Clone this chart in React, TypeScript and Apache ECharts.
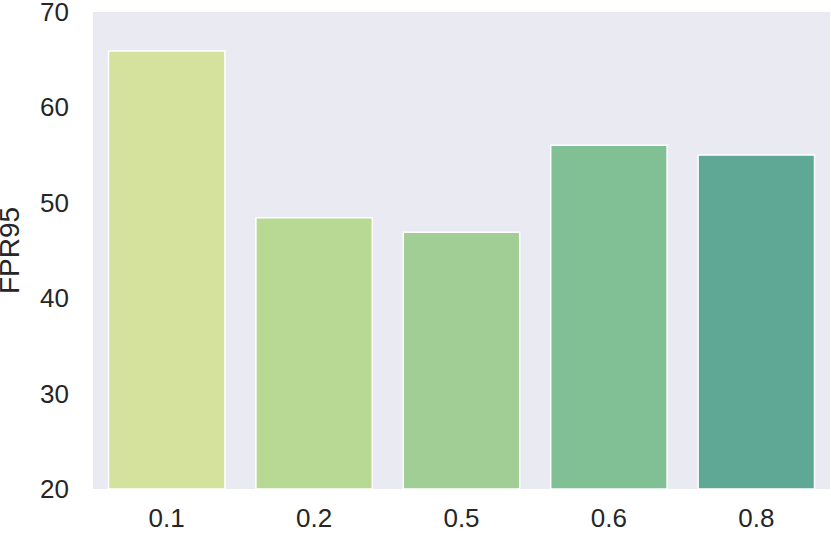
import React, { useEffect, useRef } from "react";
import * as echarts from "echarts";

const categories = ["0.1", "0.2", "0.5", "0.6", "0.8"];
const fpr95Values = [66.0, 48.5, 47.0, 56.1, 55.1];
const barColors = ["#D4E29D", "#B7D994", "#A1CE94", "#81BF95", "#5FA895"];
const yTicks = { min: 20, max: 70, interval: 10 };
const yAxisName = "FPR95";

export default function App() {
  const ref = useRef<HTMLDivElement>(null);
  useEffect(() => {
    if (!ref.current) return;
    const chart = echarts.init(ref.current, undefined, { renderer: "svg" });
    const textColor = "#262626";
    const font = "'Liberation Sans', Arial, sans-serif";
    chart.setOption({
      animation: false,
      backgroundColor: "#ffffff",
      grid: {
        left: 93, right: 1, top: 12, bottom: 49,
        containLabel: false, outerBoundsMode: "none",
        show: true, backgroundColor: "#EAEAF2", borderWidth: 0,
      },
      xAxis: {
        type: "category",
        data: categories,
        axisLine: { show: false },
        axisTick: { show: false },
        axisLabel: { color: textColor, fontSize: 26, fontFamily: font, margin: 16 },
        splitLine: { show: false },
      },
      yAxis: {
        type: "value",
        min: yTicks.min,
        max: yTicks.max,
        interval: yTicks.interval,
        name: yAxisName,
        nameLocation: "middle",
        nameGap: 70,
        nameRotate: 90,
        nameTextStyle: { color: textColor, fontSize: 28, fontFamily: font },
        axisLine: { show: false },
        axisTick: { show: false },
        axisLabel: { color: textColor, fontSize: 26, fontFamily: font, margin: 24 },
        splitLine: { show: false },
      },
      series: [
        {
          type: "bar",
          data: fpr95Values.map((v, i) => ({ value: v, itemStyle: { color: barColors[i] } })),
          barCategoryGap: "20%",
          itemStyle: { borderColor: "#ffffff", borderWidth: 1.5 },
        },
      ],
    });
    return () => chart.dispose();
  }, []);
  return <div ref={ref} style={{ position: "fixed", left: 0, top: 0, width: 831, height: 538 }} />;
}
